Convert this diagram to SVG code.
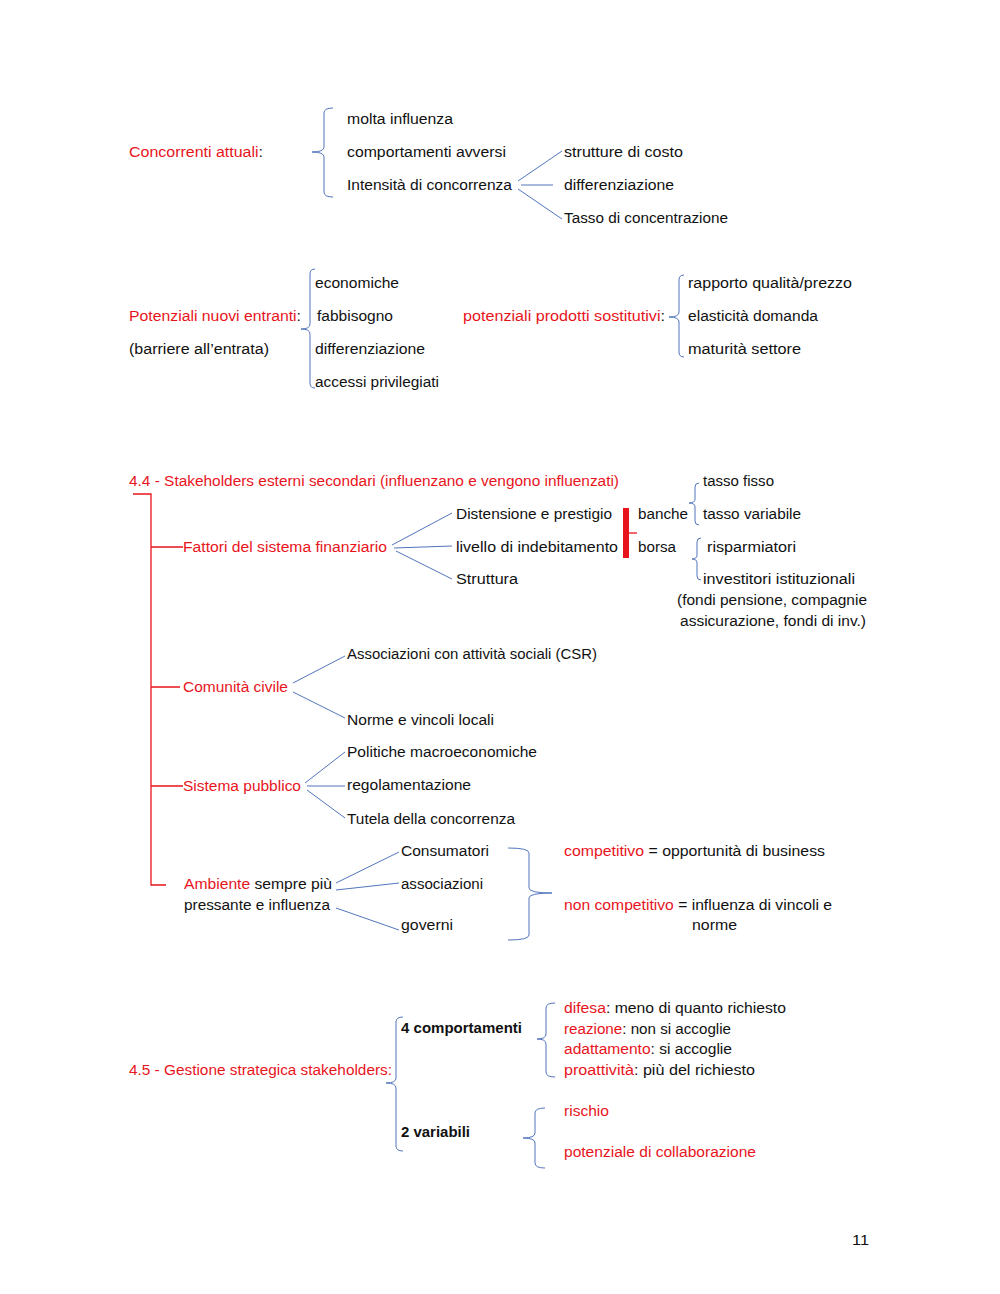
<svg xmlns="http://www.w3.org/2000/svg" width="1000" height="1294" viewBox="0 0 1000 1294">
<style>
text{font-family:"Liberation Sans",Arial,sans-serif;font-size:15.5px;fill:#111;}
.r{fill:#e8141c;}
.b{font-weight:bold;}
.bl{fill:none;stroke:#5275bd;stroke-width:1;}
.rl{fill:none;stroke:#e8141c;stroke-width:1.3;}
</style>
<rect width="1000" height="1294" fill="#fff"/>
<g id="connectors">
<path class="bl" d="M518,181 L562,151 M521,185 L553,185 M518,189 L562,219"/>
<path class="bl" d="M392,545 L452,513 M394,548 L452,546 M396,551 L452,579"/>
<path class="bl" d="M293,683 L345,656 M293,692 L345,718"/>
<path class="bl" d="M305,783 L345,752 M307,786 L345,786 M307,790 L345,818"/>
<path class="bl" d="M336,883 L399,852 M336,890 L399,883 M336,908 L399,930"/>
<path class="rl" d="M133,494 H151 V885 H166 M151,547 H183 M151,687 H180 M151,786 H183"/>
<rect x="623" y="508" width="6" height="50" fill="#e8141c"/>
<path d="M629,533 H637" stroke="#e8141c" stroke-width="1.3"/>
<!-- braces -->
<path class="bl" d="M333,108 Q324,108 324,113 L324,147 Q324,152 312,152 Q324,152 324,157 L324,192 Q324,197 333,197"/>
<path class="bl" d="M315,269 Q310,269 310,274 L310,324 Q310,329 301,329 Q310,329 310,334 L310,383 Q310,388 315,388"/>
<path class="bl" d="M684,275 Q679,275 679,280 L679,312 Q679,317 669,317 Q679,317 679,322 L679,352 Q679,357 684,357"/>
<path class="bl" d="M699,483 Q695,483 695,487 L695,499 Q695,503 689,503 Q695,503 695,507 L695,521 Q695,525 699,525"/>
<path class="bl" d="M701,538 Q697,538 697,542 L697,555 Q697,559 692,559 Q697,559 697,563 L697,576 Q697,580 701,580"/>
<path class="bl" d="M508,848 Q529,848 529,853 L529,888 Q529,893 552,893 Q529,893 529,898 L529,935 Q529,940 508,940"/>
<path class="bl" d="M403,1017 Q396,1017 396,1022 L396,1078 Q396,1083 386,1083 Q396,1083 396,1088 L396,1146 Q396,1151 403,1151"/>
<path class="bl" d="M555,1003 Q546,1003 546,1008 L546,1034 Q546,1039 537,1039 Q546,1039 546,1044 L546,1072 Q546,1077 555,1077"/>
<path class="bl" d="M545,1108 Q535,1108 535,1113 L535,1133 Q535,1138 523,1138 Q535,1138 535,1143 L535,1163 Q535,1168 545,1168"/>
</g>
<g id="concorrenti">
<text x="129" y="157" textLength="134" lengthAdjust="spacingAndGlyphs"><tspan class="r">Concorrenti attuali</tspan>:</text>
<text x="347" y="124" textLength="106" lengthAdjust="spacingAndGlyphs">molta influenza</text>
<text x="347" y="157" textLength="159" lengthAdjust="spacingAndGlyphs">comportamenti avversi</text>
<text x="347" y="190" textLength="165" lengthAdjust="spacingAndGlyphs">Intensità di concorrenza</text>
<text x="564" y="157" textLength="119" lengthAdjust="spacingAndGlyphs">strutture di costo</text>
<text x="564" y="190" textLength="110" lengthAdjust="spacingAndGlyphs">differenziazione</text>
<text x="564" y="223" textLength="164" lengthAdjust="spacingAndGlyphs">Tasso di concentrazione</text>
</g>
<g id="entranti">
<text x="129" y="321" textLength="172" lengthAdjust="spacingAndGlyphs"><tspan class="r">Potenziali nuovi entranti</tspan>:</text>
<text x="129" y="354" textLength="140" lengthAdjust="spacingAndGlyphs">(barriere all’entrata)</text>
<text x="315" y="288" textLength="84" lengthAdjust="spacingAndGlyphs">economiche</text>
<text x="317" y="321" textLength="76" lengthAdjust="spacingAndGlyphs">fabbisogno</text>
<text x="315" y="354" textLength="110" lengthAdjust="spacingAndGlyphs">differenziazione</text>
<text x="315" y="387" textLength="124" lengthAdjust="spacingAndGlyphs">accessi privilegiati</text>
</g>
<g id="sostitutivi">
<text x="463" y="321" textLength="202" lengthAdjust="spacingAndGlyphs"><tspan class="r">potenziali prodotti sostitutivi</tspan>:</text>
<text x="688" y="288" textLength="164" lengthAdjust="spacingAndGlyphs">rapporto qualità/prezzo</text>
<text x="688" y="321" textLength="130" lengthAdjust="spacingAndGlyphs">elasticità domanda</text>
<text x="688" y="354" textLength="113" lengthAdjust="spacingAndGlyphs">maturità settore</text>
</g>
<g id="stakeholders-secondari">
<text class="r" x="129" y="486" textLength="490" lengthAdjust="spacingAndGlyphs">4.4 - Stakeholders esterni secondari (influenzano e vengono influenzati)</text>
</g>
<g id="finanziario">
<text class="r" x="183" y="552" textLength="204" lengthAdjust="spacingAndGlyphs">Fattori del sistema finanziario</text>
<text x="456" y="519" textLength="156" lengthAdjust="spacingAndGlyphs">Distensione e prestigio</text>
<text x="456" y="552" textLength="162" lengthAdjust="spacingAndGlyphs">livello di indebitamento</text>
<text x="456" y="584" textLength="62" lengthAdjust="spacingAndGlyphs">Struttura</text>
<text x="638" y="519" textLength="50" lengthAdjust="spacingAndGlyphs">banche</text>
<text x="638" y="552" textLength="38" lengthAdjust="spacingAndGlyphs">borsa</text>
<text x="703" y="486" textLength="71" lengthAdjust="spacingAndGlyphs">tasso fisso</text>
<text x="703" y="519" textLength="98" lengthAdjust="spacingAndGlyphs">tasso variabile</text>
<text x="707" y="552" textLength="89" lengthAdjust="spacingAndGlyphs">risparmiatori</text>
<text x="703" y="584" textLength="152" lengthAdjust="spacingAndGlyphs">investitori istituzionali</text>
<text x="677" y="605" textLength="190" lengthAdjust="spacingAndGlyphs">(fondi pensione, compagnie</text>
<text x="680" y="626" textLength="186" lengthAdjust="spacingAndGlyphs">assicurazione, fondi di inv.)</text>
</g>
<g id="comunita">
<text class="r" x="183" y="692" textLength="105" lengthAdjust="spacingAndGlyphs">Comunità civile</text>
<text x="347" y="659" textLength="250" lengthAdjust="spacingAndGlyphs">Associazioni con attività sociali (CSR)</text>
<text x="347" y="725" textLength="147" lengthAdjust="spacingAndGlyphs">Norme e vincoli locali</text>
</g>
<g id="pubblico">
<text class="r" x="183" y="791" textLength="118" lengthAdjust="spacingAndGlyphs">Sistema pubblico</text>
<text x="347" y="757" textLength="190" lengthAdjust="spacingAndGlyphs">Politiche macroeconomiche</text>
<text x="347" y="790" textLength="124" lengthAdjust="spacingAndGlyphs">regolamentazione</text>
<text x="347" y="824" textLength="168" lengthAdjust="spacingAndGlyphs">Tutela della concorrenza</text>
</g>
<g id="ambiente">
<text x="184" y="889" textLength="148" lengthAdjust="spacingAndGlyphs"><tspan class="r">Ambiente</tspan> sempre più</text>
<text x="184" y="910" textLength="146" lengthAdjust="spacingAndGlyphs">pressante e influenza</text>
<text x="401" y="856" textLength="88" lengthAdjust="spacingAndGlyphs">Consumatori</text>
<text x="401" y="889" textLength="82" lengthAdjust="spacingAndGlyphs">associazioni</text>
<text x="401" y="930" textLength="52" lengthAdjust="spacingAndGlyphs">governi</text>
<text x="564" y="856" textLength="261" lengthAdjust="spacingAndGlyphs"><tspan class="r">competitivo</tspan> = opportunità di business</text>
<text x="564" y="910" textLength="268" lengthAdjust="spacingAndGlyphs"><tspan class="r">non competitivo</tspan> = influenza di vincoli e</text>
<text x="692" y="930" textLength="45" lengthAdjust="spacingAndGlyphs">norme</text>
</g>
<g id="gestione">
<text class="r" x="129" y="1075" textLength="263" lengthAdjust="spacingAndGlyphs">4.5 - Gestione strategica stakeholders:</text>
<text class="b" x="401" y="1033" textLength="121" lengthAdjust="spacingAndGlyphs">4 comportamenti</text>
<text x="564" y="1013" textLength="222" lengthAdjust="spacingAndGlyphs"><tspan class="r">difesa</tspan>: meno di quanto richiesto</text>
<text x="564" y="1034" textLength="167" lengthAdjust="spacingAndGlyphs"><tspan class="r">reazione</tspan>: non si accoglie</text>
<text x="564" y="1054" textLength="168" lengthAdjust="spacingAndGlyphs"><tspan class="r">adattamento</tspan>: si accoglie</text>
<text x="564" y="1075" textLength="191" lengthAdjust="spacingAndGlyphs"><tspan class="r">proattività</tspan>: più del richiesto</text>
<text class="b" x="401" y="1137" textLength="69" lengthAdjust="spacingAndGlyphs">2 variabili</text>
<text class="r" x="564" y="1116" textLength="45" lengthAdjust="spacingAndGlyphs">rischio</text>
<text class="r" x="564" y="1157" textLength="192" lengthAdjust="spacingAndGlyphs">potenziale di collaborazione</text>
</g>
<g id="page-number">
<text x="852" y="1245" textLength="17" lengthAdjust="spacingAndGlyphs">11</text>
</g>
</svg>
